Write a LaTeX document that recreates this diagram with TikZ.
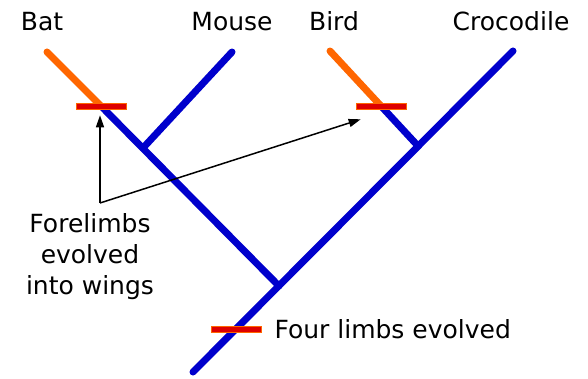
\documentclass[tikz,border=0pt]{standalone}
\usepackage{fontspec}
\setmainfont{DejaVu Sans}
\usetikzlibrary{arrows.meta, positioning}
\definecolor{cblue}{HTML}{0000CC}
\definecolor{corange}{HTML}{FF6600}
\definecolor{cred}{HTML}{DD0000}
\tikzset{
  every picture/.style={x=1pt, y=1pt},
  branch/.style={draw=cblue, line width=7pt, line cap=round},
  wingbranch/.style={draw=corange, line width=7pt, line cap=round},
  trait/.style={fill=cred, draw=corange, line width=0.6pt, minimum width=50pt, minimum height=6pt, inner sep=0pt},
  pointer/.style={-{Triangle[length=12pt, width=8pt]}, draw=black, line width=1.5pt},
  taxon/.style={font=\fontsize{25}{31}\selectfont, inner sep=0pt},
}

\begin{document}
\begin{tikzpicture}[
  note/.style={font=\fontsize{25}{31}\selectfont, align=center, inner sep=0pt}]
  \useasboundingbox (0,0) rectangle (588,378);
  \coordinate (root) at (193,6);
  \coordinate (mammalJ) at (279,92);
  \coordinate (batMouseJ) at (143,230);
  \coordinate (birdCrocJ) at (418,232);
  \coordinate (batTip) at (47,326);
  \coordinate (mouseTip) at (232,326);
  \coordinate (birdTip) at (330,327);
  \coordinate (crocTip) at (513,327);
  \coordinate (batMark) at (101,272);
  \coordinate (birdMark) at (381,272);
  \coordinate (limbMark) at (236,49);
  \coordinate (fork) at (100,175);
  \draw[branch] (root) -- (crocTip);
  \draw[branch] (mammalJ) -- (batMark);
  \draw[branch] (batMouseJ) -- (mouseTip);
  \draw[branch] (birdCrocJ) -- (birdMark);
  \draw[wingbranch] (batMark) -- (batTip);
  \draw[wingbranch] (birdMark) -- (birdTip);
  \node[trait] (batTrait) at (batMark) {};
  \node[trait] (birdTrait) at (birdMark) {};
  \node[trait] (limbTrait) at (limbMark) {};
  \node[taxon, anchor=base] (bat) at (42,347) {Bat};
  \node[taxon, anchor=base] (mouse) at (232,347) {Mouse};
  \node[taxon, anchor=base] (bird) at (334,347) {Bird};
  \node[taxon, anchor=base] (croc) at (511,347) {Crocodile};
  \node[taxon, right=13pt of limbTrait] (limbLabel) {Four limbs evolved};
  \node[note] (wingLabel) at (90,121) {Forelimbs\\evolved\\into wings};
  \draw[pointer] (fork) -- ([shift={(-1pt,-6pt)}]batTrait.south);
  \draw[pointer] (fork) -- ([shift={(5pt,-10pt)}]birdTrait.south west);
\end{tikzpicture}
\end{document}
